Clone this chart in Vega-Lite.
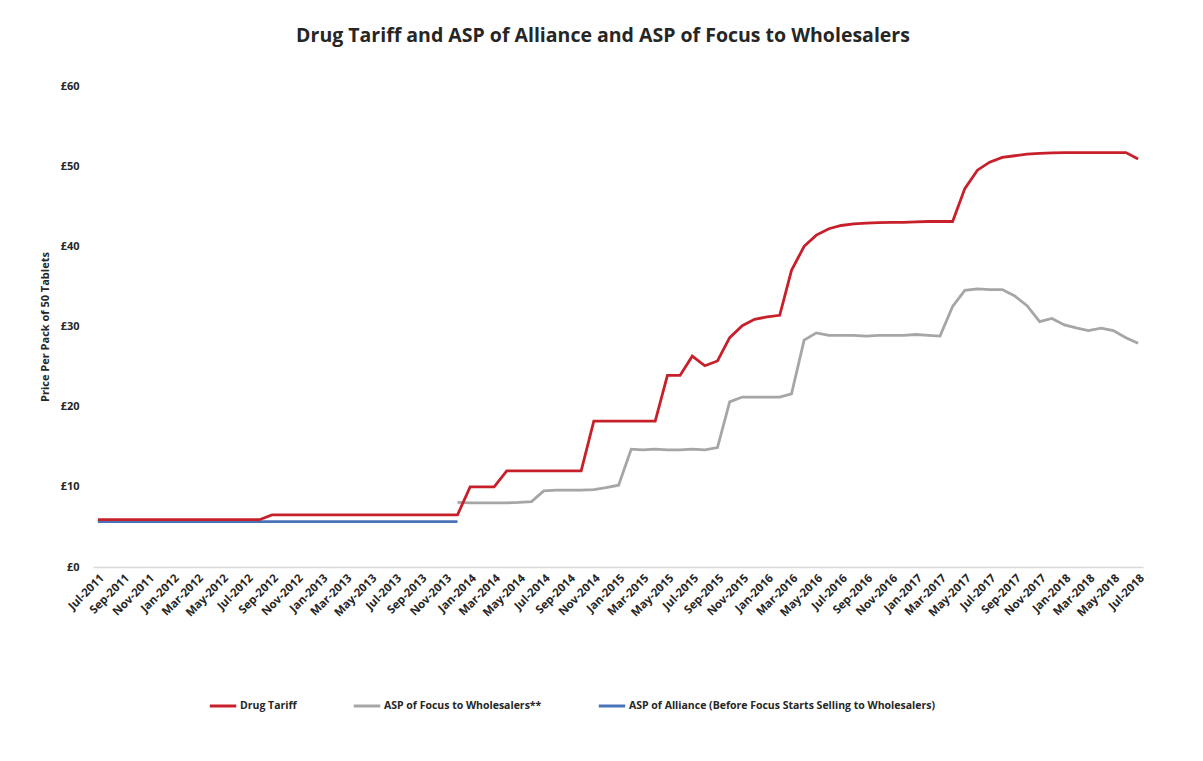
{
  "$schema": "https://vega.github.io/schema/vega-lite/v6.json",
  "width": 1050,
  "height": 481,
  "autosize": "none",
  "padding": {"left": 93, "top": 86, "right": 60, "bottom": 194},
  "background": "white",
  "title": {"text": "Drug Tariff and ASP of Alliance and ASP of Focus to Wholesalers", "font": "Open Sans", "fontSize": 19.5, "fontWeight": "bold", "color": "#262626", "offset": 34, "dx": -15},
  "config": {"view": {"stroke": null}, "font": "Open Sans"},
  "datasets": {
    "tariff": [
      {"month": "2011-07-01", "price": 5.9}, {"month": "2011-08-01", "price": 5.9}, {"month": "2011-09-01", "price": 5.9}, {"month": "2011-10-01", "price": 5.9},
      {"month": "2011-11-01", "price": 5.9}, {"month": "2011-12-01", "price": 5.9}, {"month": "2012-01-01", "price": 5.9}, {"month": "2012-02-01", "price": 5.9},
      {"month": "2012-03-01", "price": 5.9}, {"month": "2012-04-01", "price": 5.9}, {"month": "2012-05-01", "price": 5.9}, {"month": "2012-06-01", "price": 5.9},
      {"month": "2012-07-01", "price": 5.9}, {"month": "2012-08-01", "price": 5.9}, {"month": "2012-09-01", "price": 6.5}, {"month": "2012-10-01", "price": 6.5},
      {"month": "2012-11-01", "price": 6.5}, {"month": "2012-12-01", "price": 6.5}, {"month": "2013-01-01", "price": 6.5}, {"month": "2013-02-01", "price": 6.5},
      {"month": "2013-03-01", "price": 6.5}, {"month": "2013-04-01", "price": 6.5}, {"month": "2013-05-01", "price": 6.5}, {"month": "2013-06-01", "price": 6.5},
      {"month": "2013-07-01", "price": 6.5}, {"month": "2013-08-01", "price": 6.5}, {"month": "2013-09-01", "price": 6.5}, {"month": "2013-10-01", "price": 6.5},
      {"month": "2013-11-01", "price": 6.5}, {"month": "2013-12-01", "price": 6.5}, {"month": "2014-01-01", "price": 10.0}, {"month": "2014-02-01", "price": 10.0},
      {"month": "2014-03-01", "price": 10.0}, {"month": "2014-04-01", "price": 12.0}, {"month": "2014-05-01", "price": 12.0}, {"month": "2014-06-01", "price": 12.0},
      {"month": "2014-07-01", "price": 12.0}, {"month": "2014-08-01", "price": 12.0}, {"month": "2014-09-01", "price": 12.0}, {"month": "2014-10-01", "price": 12.0},
      {"month": "2014-11-01", "price": 18.2}, {"month": "2014-12-01", "price": 18.2}, {"month": "2015-01-01", "price": 18.2}, {"month": "2015-02-01", "price": 18.2},
      {"month": "2015-03-01", "price": 18.2}, {"month": "2015-04-01", "price": 18.2}, {"month": "2015-05-01", "price": 23.9}, {"month": "2015-06-01", "price": 23.9},
      {"month": "2015-07-01", "price": 26.3}, {"month": "2015-08-01", "price": 25.1}, {"month": "2015-09-01", "price": 25.7}, {"month": "2015-10-01", "price": 28.6},
      {"month": "2015-11-01", "price": 30.1}, {"month": "2015-12-01", "price": 30.9}, {"month": "2016-01-01", "price": 31.2}, {"month": "2016-02-01", "price": 31.4},
      {"month": "2016-03-01", "price": 37.0}, {"month": "2016-04-01", "price": 40.0}, {"month": "2016-05-01", "price": 41.4}, {"month": "2016-06-01", "price": 42.2},
      {"month": "2016-07-01", "price": 42.6}, {"month": "2016-08-01", "price": 42.8}, {"month": "2016-09-01", "price": 42.9}, {"month": "2016-10-01", "price": 42.95},
      {"month": "2016-11-01", "price": 43.0}, {"month": "2016-12-01", "price": 43.0}, {"month": "2017-01-01", "price": 43.05}, {"month": "2017-02-01", "price": 43.1},
      {"month": "2017-03-01", "price": 43.1}, {"month": "2017-04-01", "price": 43.1}, {"month": "2017-05-01", "price": 47.2}, {"month": "2017-06-01", "price": 49.5},
      {"month": "2017-07-01", "price": 50.5}, {"month": "2017-08-01", "price": 51.1}, {"month": "2017-09-01", "price": 51.3}, {"month": "2017-10-01", "price": 51.5},
      {"month": "2017-11-01", "price": 51.6}, {"month": "2017-12-01", "price": 51.65}, {"month": "2018-01-01", "price": 51.7}, {"month": "2018-02-01", "price": 51.7},
      {"month": "2018-03-01", "price": 51.7}, {"month": "2018-04-01", "price": 51.7}, {"month": "2018-05-01", "price": 51.7}, {"month": "2018-06-01", "price": 51.7},
      {"month": "2018-07-01", "price": 50.9}
    ],
    "focus": [
      {"month": "2013-12-01", "price": 8.05}, {"month": "2014-01-01", "price": 8.0}, {"month": "2014-02-01", "price": 8.0}, {"month": "2014-03-01", "price": 8.0},
      {"month": "2014-04-01", "price": 8.0}, {"month": "2014-05-01", "price": 8.05}, {"month": "2014-06-01", "price": 8.15}, {"month": "2014-07-01", "price": 9.5},
      {"month": "2014-08-01", "price": 9.6}, {"month": "2014-09-01", "price": 9.6}, {"month": "2014-10-01", "price": 9.6}, {"month": "2014-11-01", "price": 9.65},
      {"month": "2014-12-01", "price": 9.9}, {"month": "2015-01-01", "price": 10.2}, {"month": "2015-02-01", "price": 14.7}, {"month": "2015-03-01", "price": 14.6},
      {"month": "2015-04-01", "price": 14.7}, {"month": "2015-05-01", "price": 14.6}, {"month": "2015-06-01", "price": 14.6}, {"month": "2015-07-01", "price": 14.7},
      {"month": "2015-08-01", "price": 14.6}, {"month": "2015-09-01", "price": 14.9}, {"month": "2015-10-01", "price": 20.6}, {"month": "2015-11-01", "price": 21.2},
      {"month": "2015-12-01", "price": 21.2}, {"month": "2016-01-01", "price": 21.2}, {"month": "2016-02-01", "price": 21.2}, {"month": "2016-03-01", "price": 21.6},
      {"month": "2016-04-01", "price": 28.3}, {"month": "2016-05-01", "price": 29.2}, {"month": "2016-06-01", "price": 28.9}, {"month": "2016-07-01", "price": 28.9},
      {"month": "2016-08-01", "price": 28.9}, {"month": "2016-09-01", "price": 28.8}, {"month": "2016-10-01", "price": 28.9}, {"month": "2016-11-01", "price": 28.9},
      {"month": "2016-12-01", "price": 28.9}, {"month": "2017-01-01", "price": 29.0}, {"month": "2017-02-01", "price": 28.9}, {"month": "2017-03-01", "price": 28.8},
      {"month": "2017-04-01", "price": 32.5}, {"month": "2017-05-01", "price": 34.5}, {"month": "2017-06-01", "price": 34.7}, {"month": "2017-07-01", "price": 34.6},
      {"month": "2017-08-01", "price": 34.6}, {"month": "2017-09-01", "price": 33.8}, {"month": "2017-10-01", "price": 32.6}, {"month": "2017-11-01", "price": 30.6},
      {"month": "2017-12-01", "price": 31.0}, {"month": "2018-01-01", "price": 30.2}, {"month": "2018-02-01", "price": 29.8}, {"month": "2018-03-01", "price": 29.5},
      {"month": "2018-04-01", "price": 29.8}, {"month": "2018-05-01", "price": 29.5}, {"month": "2018-06-01", "price": 28.6}, {"month": "2018-07-01", "price": 27.9}
    ],
    "alliance": [
      {"month": "2011-07-01", "price": 5.65}, {"month": "2011-08-01", "price": 5.65}, {"month": "2011-09-01", "price": 5.65}, {"month": "2011-10-01", "price": 5.65},
      {"month": "2011-11-01", "price": 5.65}, {"month": "2011-12-01", "price": 5.65}, {"month": "2012-01-01", "price": 5.65}, {"month": "2012-02-01", "price": 5.65},
      {"month": "2012-03-01", "price": 5.65}, {"month": "2012-04-01", "price": 5.65}, {"month": "2012-05-01", "price": 5.65}, {"month": "2012-06-01", "price": 5.65},
      {"month": "2012-07-01", "price": 5.65}, {"month": "2012-08-01", "price": 5.65}, {"month": "2012-09-01", "price": 5.65}, {"month": "2012-10-01", "price": 5.65},
      {"month": "2012-11-01", "price": 5.65}, {"month": "2012-12-01", "price": 5.65}, {"month": "2013-01-01", "price": 5.65}, {"month": "2013-02-01", "price": 5.65},
      {"month": "2013-03-01", "price": 5.65}, {"month": "2013-04-01", "price": 5.65}, {"month": "2013-05-01", "price": 5.65}, {"month": "2013-06-01", "price": 5.65},
      {"month": "2013-07-01", "price": 5.65}, {"month": "2013-08-01", "price": 5.65}, {"month": "2013-09-01", "price": 5.65}, {"month": "2013-10-01", "price": 5.65},
      {"month": "2013-11-01", "price": 5.65}, {"month": "2013-12-01", "price": 5.65}
    ]
  },
  "layer": [
    {
      "data": {"name": "alliance"},
      "transform": [{"calculate": "'ASP of Alliance (Before Focus Starts Selling to Wholesalers)'", "as": "series"}],
      "mark": {"type": "line", "strokeWidth": 2.8},
      "encoding": {
        "x": {"field": "month", "type": "temporal"},
        "y": {"field": "price", "type": "quantitative"},
        "color": {"field": "series", "type": "nominal"}
      }
    },
    {
      "data": {"name": "focus"},
      "transform": [{"calculate": "'ASP of Focus to Wholesalers**'", "as": "series"}],
      "mark": {"type": "line", "strokeWidth": 2.8},
      "encoding": {
        "x": {"field": "month", "type": "temporal"},
        "y": {"field": "price", "type": "quantitative"},
        "color": {"field": "series", "type": "nominal"}
      }
    },
    {
      "data": {"name": "tariff"},
      "transform": [{"calculate": "'Drug Tariff'", "as": "series"}],
      "mark": {"type": "line", "strokeWidth": 2.8},
      "encoding": {
        "x": {
          "field": "month", "type": "temporal",
          "scale": {"type": "utc", "nice": false, "domain": [{"year": 2011, "month": 6, "date": 19, "utc": true}, {"year": 2018, "month": 7, "date": 13, "utc": true}]},
          "axis": {
            "title": null, "grid": false, "ticks": false, "domain": true, "domainColor": "#D9D9D9", "domainWidth": 1.5,
            "tickCount": {"interval": "month", "step": 2},
            "labelExpr": "utcFormat(datum.value, '%b-%Y')",
            "labelAngle": -45, "labelFont": "Open Sans", "labelFontSize": 11.5, "labelFontWeight": "bold", "labelColor": "#262626",
            "labelPadding": 5, "labelOverlap": false, "labelFlush": false
          }
        },
        "y": {
          "field": "price", "type": "quantitative",
          "scale": {"domain": [0, 60], "nice": false},
          "axis": {
            "title": "Price Per Pack of 50 Tablets", "titleFont": "Open Sans", "titleFontSize": 11, "titleFontWeight": "bold", "titleColor": "#262626", "titlePadding": 10,
            "values": [0, 10, 20, 30, 40, 50, 60], "labelExpr": "'£' + datum.value",
            "grid": false, "ticks": false, "domain": false,
            "labelFont": "Open Sans", "labelFontSize": 11, "labelFontWeight": "bold", "labelColor": "#262626", "labelPadding": 14
          }
        },
        "color": {
          "field": "series", "type": "nominal",
          "scale": {
            "domain": ["Drug Tariff", "ASP of Focus to Wholesalers**", "ASP of Alliance (Before Focus Starts Selling to Wholesalers)"],
            "range": ["#C8202A", "#A6A6A6", "#4A72B8"]
          },
          "legend": {
            "title": null, "orient": "none", "direction": "horizontal", "legendX": 115, "legendY": 605,
            "symbolType": "stroke", "symbolSize": 700, "symbolStrokeWidth": 3, "columnPadding": 50,
            "labelFont": "Open Sans", "labelFontSize": 10.5, "labelFontWeight": "bold", "labelColor": "#262626", "labelOffset": 2, "labelLimit": 500
          }
        }
      }
    }
  ]
}
